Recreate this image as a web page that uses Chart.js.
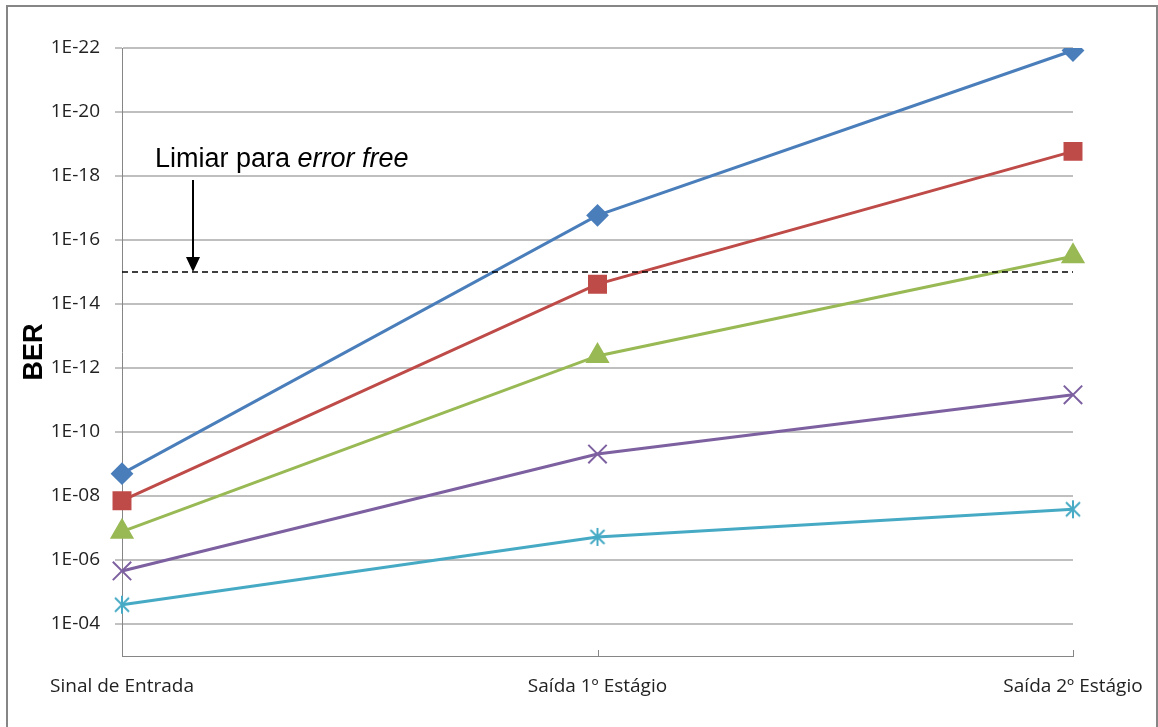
<!DOCTYPE html>
<html>
<head>
<meta charset="utf-8">
<script src="https://cdn.jsdelivr.net/npm/chart.js@4/dist/chart.umd.min.js"></script>
<style>
  html, body { margin: 0; padding: 0; background: #fff; }
  #wrap { width: 1158px; height: 727px; position: relative; }
</style>
</head>
<body>
<div id="wrap"><canvas id="berChart"></canvas></div>
<script>
// Dados
const categorias = ['Sinal de Entrada', 'Saída 1º Estágio', 'Saída 2º Estágio'];
const serieAzul    = [2.0e-9, 1.7e-17, 1.2e-22];
const serieVermelha = [1.4e-8, 2.4e-15, 1.7e-19];
const serieVerde   = [1.3e-7, 4.2e-13, 3.2e-16];
const serieRoxa    = [2.2e-6, 4.9e-10, 6.9e-12];
const serieCiano   = [2.5e-5, 1.9e-7, 2.6e-8];
const limiarErrorFree = 1e-15;
const ticksY = [1e-4, 1e-6, 1e-8, 1e-10, 1e-12, 1e-14, 1e-16, 1e-18, 1e-20, 1e-22];

const fonteTexto = '"Open Sans", sans-serif';
const fonteArial = '"Liberation Sans", Arial, sans-serif';

// marcador asterisco (estilo Excel)
function criarAsterisco(cor) {
    const c = document.createElement('canvas');
    c.width = 22; c.height = 22;
    const g = c.getContext('2d');
    g.strokeStyle = cor;
    g.lineWidth = 2;
    g.beginPath();
    g.moveTo(11, 2); g.lineTo(11, 20);
    g.moveTo(4, 4); g.lineTo(18, 18);
    g.moveTo(18, 4); g.lineTo(4, 18);
    g.stroke();
    return c;
}

function serie(label, dados, cor, estilo, raio) {
    return {
        label: label,
        data: dados,
        borderColor: cor,
        backgroundColor: cor,
        pointBackgroundColor: cor,
        pointBorderColor: cor,
        borderWidth: 3,
        pointStyle: estilo,
        pointRadius: raio,
        pointBorderWidth: 2,
        tension: 0
    };
}

// linha tracejada, seta, texto e moldura
const anotacoes = {
    id: 'anotacoes',
    afterDatasetsDraw(chart) {
        const { ctx, chartArea, scales } = chart;
        const y = scales.y;
        const x = scales.x;
        ctx.save();

        // ticks do eixo x (para dentro)
        ctx.strokeStyle = '#868686';
        ctx.lineWidth = 1;
        categorias.forEach((c, i) => {
            const px = Math.round(x.getPixelForValue(i)) + 0.5;
            ctx.beginPath();
            ctx.moveTo(px, chartArea.bottom);
            ctx.lineTo(px, chartArea.bottom - 6);
            ctx.stroke();
        });

        const yl = y.getPixelForValue(limiarErrorFree);
        ctx.strokeStyle = '#000';
        ctx.lineWidth = 1.5;
        ctx.setLineDash([6, 4]);
        ctx.beginPath();
        ctx.moveTo(chartArea.left, yl);
        ctx.lineTo(chartArea.right, yl);
        ctx.stroke();
        ctx.setLineDash([]);

        // seta
        const ax = chartArea.left + 71;
        const ay0 = y.getPixelForValue(1e-18) + 4;
        ctx.lineWidth = 2;
        ctx.beginPath();
        ctx.moveTo(ax, ay0);
        ctx.lineTo(ax, yl - 12);
        ctx.stroke();
        ctx.fillStyle = '#000';
        ctx.beginPath();
        ctx.moveTo(ax - 7, yl - 15);
        ctx.lineTo(ax + 7, yl - 15);
        ctx.lineTo(ax, yl);
        ctx.closePath();
        ctx.fill();

        // texto
        ctx.font = '27px ' + fonteArial;
        ctx.textBaseline = 'alphabetic';
        const tx = chartArea.left + 33;
        const ty = y.getPixelForValue(1e-18) - 9;
        const t1 = 'Limiar para ';
        ctx.fillText(t1, tx, ty);
        const w1 = ctx.measureText(t1).width;
        ctx.font = 'italic 27px ' + fonteArial;
        ctx.fillText('error free', tx + w1, ty);

        ctx.restore();
    },
    beforeDraw(chart) {
        const { ctx } = chart;
        ctx.save();
        ctx.strokeStyle = '#868686';
        ctx.lineWidth = 2;
        ctx.strokeRect(7, 6, 1150, 740);
        ctx.restore();
    }
};

const grafico = new Chart(document.getElementById('berChart'), {
    type: 'line',
    data: {
        labels: categorias,
        datasets: [
            serie('Série 1', serieAzul, '#4A7EBB', 'rectRot', 10),
            serie('Série 2', serieVermelha, '#BE4B48', 'rect', 12),
            serie('Série 3', serieVerde, '#98B954', 'triangle', 12),
            serie('Série 4', serieRoxa, '#7D60A0', 'crossRot', 13),
            serie('Série 5', serieCiano, '#46AAC5', criarAsterisco('#46AAC5'), 10)
        ]
    },
    options: {
        responsive: true,
        maintainAspectRatio: false,
        animation: false,
        layout: { padding: { left: 8, right: 85, top: 48, bottom: 11 } },
        plugins: {
            legend: { display: false },
            tooltip: { enabled: false }
        },
        scales: {
            x: {
                type: 'category',
                offset: false,
                grid: { display: false, drawTicks: false },
                border: { color: '#868686', width: 1 },
                ticks: {
                    color: '#222',
                    font: { family: fonteTexto, size: 19 },
                    maxRotation: 0,
                    padding: 19
                },
                afterFit(scale) {
                    scale.height = 60;
                    scale.paddingRight = 0;
                    scale.paddingLeft = 0;
                }
            },
            y: {
                type: 'logarithmic',
                reverse: true,
                min: 1e-22,
                max: 1e-3,
                afterBuildTicks(scale) {
                    scale.ticks = ticksY.map(v => ({ value: v }));
                },
                afterFit(scale) { scale.width = 114; },
                grid: {
                    color: '#BFBFBF',
                    lineWidth: 2,
                    tickColor: '#868686',
                    tickLength: 7,
                    tickWidth: 1
                },
                border: { color: '#868686', width: 1 },
                ticks: {
                    color: '#222',
                    font: { family: fonteTexto, size: 19 },
                    padding: 15,
                    callback(v) {
                        const e = Math.round(-Math.log10(v));
                        return '1E-' + String(e).padStart(2, '0');
                    }
                },
                title: {
                    display: true,
                    text: 'BER',
                    color: '#000',
                    font: { family: fonteArial, size: 27, weight: 'bold' },
                    padding: { top: 10, bottom: 0 }
                }
            }
        }
    },
    plugins: [anotacoes]
});
</script>
</body>
</html>
